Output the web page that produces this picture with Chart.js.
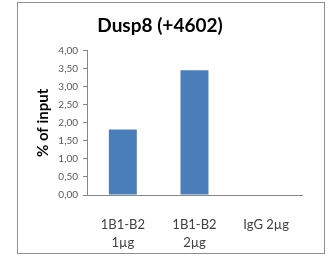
<!DOCTYPE html>
<html>
<head>
<meta charset="utf-8">
<script src="https://cdn.jsdelivr.net/npm/chart.js@4.4.0/dist/chart.umd.min.js"></script>
<style>
  html, body { margin: 0; padding: 0; background: #fff; }
  #wrap { position: relative; width: 332px; height: 256px; }
  #frame { position: absolute; left: 17px; top: 2px; width: 306px; height: 250px; border: 1px solid #8f8f8f; pointer-events: none; }
</style>
</head>
<body>
<div id="wrap">
  <canvas id="myChart" width="332" height="256"></canvas>
  <div id="frame"></div>
</div>
<script>
// categories and values
const categories = [["1B1-B2", "1µg"], ["1B1-B2", "2µg"], "IgG 2µg"];
const percentInput = [1.82, 3.46, 0];
const yTicks = [0, 0.5, 1, 1.5, 2, 2.5, 3, 3.5, 4];

const fontName = "Lato, 'Open Sans', sans-serif";
const axisGrey = '#878787';

var ctx = document.getElementById('myChart').getContext('2d');
var chart = new Chart(ctx, {
    type: 'bar',
    data: {
        labels: categories,
        datasets: [{
            label: '% of input',
            data: percentInput,
            backgroundColor: '#4a7ebb',
            borderWidth: 0,
            categoryPercentage: 1,
            barPercentage: 0.39
        }]
    },
    options: {
        responsive: false,
        animation: false,
        layout: { padding: { left: 18, right: 30, top: 0, bottom: 0 } },
        plugins: {
            legend: { display: false },
            tooltip: { enabled: false },
            title: {
                display: true,
                text: 'Dusp8 (+4602)',
                color: '#000',
                font: { family: fontName, size: 19, weight: 'bold' },
                padding: { top: 14, bottom: 14 }
            }
        },
        scales: {
            x: {
                grid: { display: false },
                border: { display: true, color: axisGrey, width: 1 },
                ticks: {
                    color: '#404040',
                    padding: 12,
                    maxRotation: 0,
                    font: { family: fontName, size: 13, lineHeight: 1.45 }
                },
                afterFit: function(scale) { scale.height = 61; }
            },
            y: {
                min: 0,
                max: 4,
                afterBuildTicks: function(scale) {
                    scale.ticks = yTicks.map(v => ({ value: v }));
                },
                grid: {
                    drawOnChartArea: false,
                    drawTicks: true,
                    tickLength: 4,
                    color: axisGrey
                },
                border: { display: true, color: axisGrey, width: 1 },
                ticks: {
                    color: '#595959',
                    padding: 5,
                    font: { family: fontName, size: 10 },
                    callback: function(value) { return value.toFixed(2).replace('.', ','); }
                },
                title: {
                    display: true,
                    text: '% of input',
                    color: '#000',
                    font: { family: fontName, size: 15, weight: 'bold' },
                    padding: { top: 16, bottom: 0 }
                },
                afterFit: function(scale) { scale.width = 69; }
            }
        }
    }
});
</script>
</body>
</html>
